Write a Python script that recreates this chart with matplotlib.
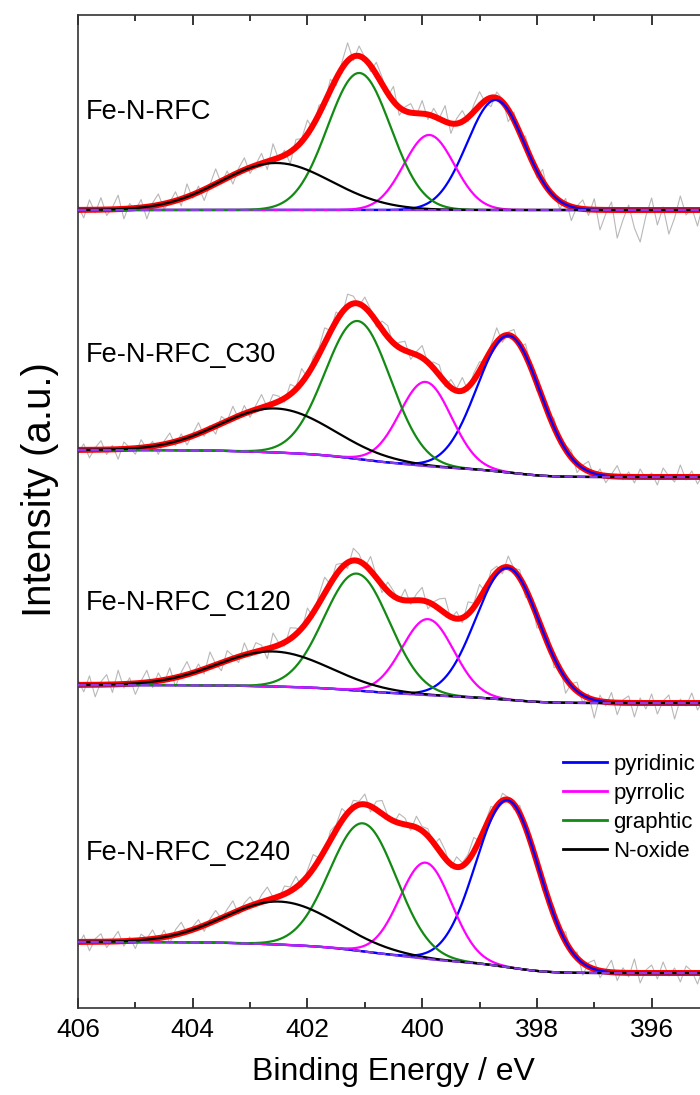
import numpy as np
import matplotlib
matplotlib.use("Agg")
import matplotlib.pyplot as plt
from matplotlib.lines import Line2D
from matplotlib.ticker import MultipleLocator

plt.rcParams["font.family"] = ["Liberation Sans", "DejaVu Sans"]

# N 1s fits, components ordered: pyridinic, pyrrolic, graphitic, N-oxide
SAMPLES = ["Fe-N-RFC", "Fe-N-RFC_C30", "Fe-N-RFC_C120", "Fe-N-RFC_C240"]
COMPONENTS = ["pyridinic", "pyrrolic", "graphtic", "N-oxide"]
COMP_COLORS = ["#0000ff", "#ff00ff", "#138a13", "#000000"]

# stacked background level at the high-BE (left) and low-BE (right) ends
BG_LEFT = [798, 558, 323, 66]
BG_RIGHT = [798, 531, 305, 35]

CENTERS = [
    [398.72, 399.88, 401.10, 402.55],
    [398.49, 399.94, 401.12, 402.55],
    [398.51, 399.90, 401.14, 402.60],
    [398.51, 399.94, 401.03, 402.48],
]
HEIGHTS = [
    [110, 75, 137, 47],
    [137, 84, 138, 44],
    [132, 76, 117, 35],
    [167, 96, 128, 43],
]
SIGMAS = [
    [0.50, 0.44, 0.55, 0.97],
    [0.55, 0.45, 0.57, 0.97],
    [0.55, 0.45, 0.57, 0.97],
    [0.55, 0.45, 0.58, 0.97],
]

# raw-data residuals about the fit envelope, 406 -> 395 eV in 0.1 eV steps
RESID_1 = [4, -8, 10, -3, 12, -6, 2, 14, -10, 5, -2, 8, -12, 3, 11, -5, 0, 9, -7, 13,
           -4, 6, -11, 2, 15, -3, 7, -9, 4, 12, -6, 1, 10, -8, 16, -2, 5, -12, 8, 3,
           14, -5, 9, -1, 11, -7, 6, 18, -4, 10, 2, -6, 12, 7, -3, 15, -8, 4, 9, -2,
           13, -5, 8, 1, 16, -10, 5, 11, -4, 7, 14, -2, -9, 6, 3, -12, 8, -5, 10, 2,
           -7, 12, -3, 4, -8, 6, -14, 2, 9, -6, 11, -20, -4, 8, -28, -10, 5, -18, -32, -6,
           12, -15, 3, -24, -8, 14, -5, 2, -16, 7, -3]
RESID_2 = [-3, 6, -8, 2, 9, -5, 4, -10, 7, 1, -6, 8, -2, 5, -9, 3, 10, -4, 6, -7,
           2, 11, -5, 3, -8, 7, 0, 12, -3, 8, -6, 4, 13, -2, 9, 5, -4, 10, 2, 14,
           -3, 8, 6, 15, 1, 9, -4, 12, 7, -2, 10, 4, -6, 8, 11, -3, 5, 9, -7, 3,
           12, -1, 6, 10, -5, 8, 2, 13, -4, 7, 9, -2, 5, 14, -6, 3, 8, -3, 11, 1,
           -8, 6, -2, 9, -5, 4, 7, -9, 3, 10, -4, 6, -7, 2, 11, -3, 5, -6, 8, -2,
           4, -8, 9, 1, -5, 12, -3, 6, -7, 3, 8]
RESID_3 = [5, -7, 9, -12, 3, 10, -8, 14, -4, 6, -11, 2, 12, -6, 8, -3, 11, -9, 4, 13,
           -2, 7, -5, 15, 1, -8, 10, 3, -6, 12, -3, 9, 5, -10, 14, 2, -4, 11, 6, -2,
           13, -5, 8, 16, -1, 10, 4, -6, 12, 7, -3, 14, 2, -8, 9, 5, -2, 11, -4, 6,
           13, -7, 3, 10, 15, -2, 7, -5, 12, 4, 14, -3, 9, 6, -6, 11, 2, 8, -9, 4,
           -12, 3, 7, -10, 5, -15, 2, 9, -8, 4, -18, 6, -4, 10, -12, 3, 7, -14, 5, -6,
           9, -11, 2, 8, -16, 4, -3, 10, -7, 3, -5]
RESID_4 = [-4, 7, -9, 3, 8, -6, 2, 10, -5, 4, -8, 6, 1, 9, -3, 7, -7, 5, 11, -2,
           3, 8, -6, 4, 10, -1, 6, 12, -4, 5, 9, -2, 7, 13, 1, -3, 8, 4, 11, -5,
           6, 14, 2, -4, 9, 5, 12, -1, 7, 3, 10, -6, 8, 13, 2, -3, 9, 6, -5, 11,
           4, 7, -2, 12, 8, -4, 10, 3, 6, 14, -1, 5, 9, -3, 7, 2, -6, 8, 4, -2,
           6, -9, 3, 8, -5, 10, -3, 6, -12, 4, 9, -7, 2, 12, -8, 5, -4, 14, -10, 3,
           8, -6, 11, -3, 5, -9, 7, 2, -11, 6, 1]
RESIDUALS = [RESID_1, RESID_2, RESID_3, RESID_4]

LABEL_Y = [896, 653, 405, 155]

E_HI, E_LO = 406.0, 395.0


def gauss(e, c, h, s):
    return h * np.exp(-0.5 * ((e - c) / s) ** 2)


def fit_model(e, k):
    peaks = [gauss(e, c, h, s) for c, h, s in zip(CENTERS[k], HEIGHTS[k], SIGMAS[k])]
    total = np.sum(peaks, axis=0)
    # Shirley-type step: cumulative peak area from the low-BE side
    area = np.cumsum(total[::-1])[::-1]
    frac = area / area[0]
    bg = BG_RIGHT[k] + (BG_LEFT[k] - BG_RIGHT[k]) * frac
    return bg, peaks, bg + total


fig = plt.figure(figsize=(7.0, 10.95), dpi=100)
ax = fig.add_axes([78 / 700, 87 / 1095, 631 / 700, 993 / 1095])

e_fine = np.linspace(E_HI, E_LO, 600)
for k, name in enumerate(SAMPLES):
    bg, peaks, env = fit_model(e_fine, k)

    resid = np.array(RESIDUALS[k], dtype=float)
    e_raw = np.linspace(E_HI, E_LO, len(resid))
    bg_r, _, env_r = fit_model(e_raw, k)
    ax.plot(e_raw, env_r + resid, color="#b8b8b8", lw=0.8, zorder=1)

    ax.plot(e_fine, env, color="#ff0000", lw=4.3, zorder=2, solid_capstyle="butt")
    ax.plot(e_fine, bg, color="#7b2fd0", lw=1.7, zorder=3)
    for p, col in zip(peaks, COMP_COLORS):
        ax.plot(e_fine, bg + p, color=col, lw=1.6, zorder=4)
    ax.plot(e_fine, bg, color="#8a3be8", lw=1.5, ls=(0, (4, 2)), zorder=5)

    ax.text(405.86, LABEL_Y[k], name, fontsize=19.5, ha="left", va="center")

ax.set_xlim(E_HI, E_LO)
ax.set_ylim(0, 993)
ax.set_yticks([])
ax.xaxis.set_major_locator(MultipleLocator(2))
ax.xaxis.set_minor_locator(MultipleLocator(1))
ax.tick_params(axis="x", which="both", direction="in", top=True, labelsize=19, pad=7)
ax.tick_params(axis="x", which="major", length=7, width=1.1)
ax.tick_params(axis="x", which="minor", length=4, width=1.1)
for sp in ax.spines.values():
    sp.set_linewidth(1.2)
    sp.set_color("#333333")

ax.set_xlabel("Binding Energy / eV", fontsize=23, labelpad=11)
ax.set_ylabel("Intensity (a.u.)", fontsize=29)
ax.yaxis.set_label_coords(-0.03, 0.522)

handles = [Line2D([], [], color=c, lw=2.0) for c in COMP_COLORS]
ax.legend(handles, COMPONENTS, loc="upper left", bbox_to_anchor=(0.7686, 0.2558),
          frameon=False, fontsize=16, handlelength=2.0, handletextpad=0.27,
          labelspacing=0.36, borderpad=0, borderaxespad=0)

fig.savefig("out.png", dpi=100)
